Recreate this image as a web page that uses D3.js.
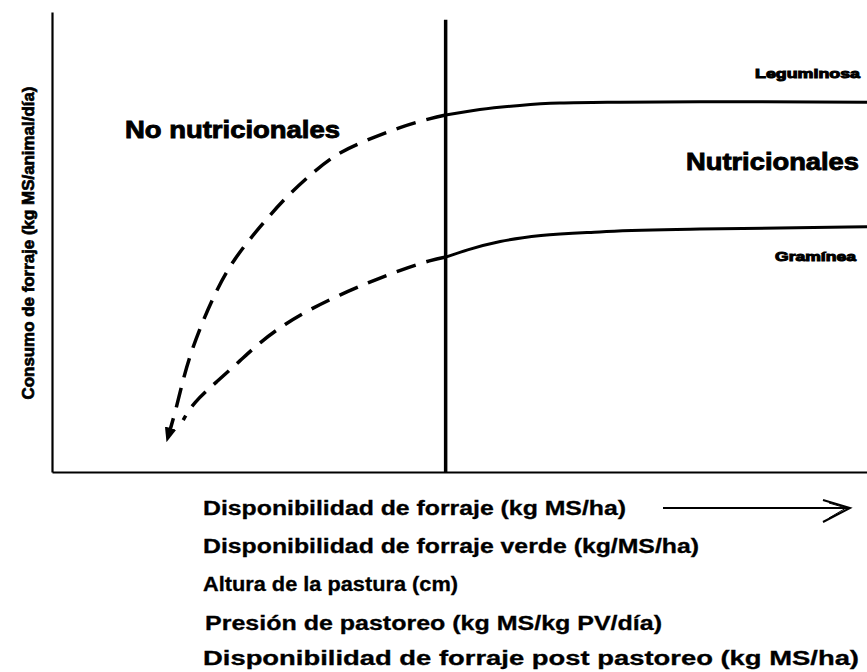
<!DOCTYPE html>
<html>
<head>
<meta charset="utf-8">
<script src="https://cdn.jsdelivr.net/npm/d3@7"></script>
<style>
  body { margin: 0; background: #fff; }
  text { font-family: "Liberation Sans", Arial, sans-serif; fill: #000; }
</style>
</head>
<body>
<div id="chart"></div>
<script>
var width = 867, height = 672;
var margin = {top: 12, right: 0, bottom: 200, left: 52};

// curves (x and y in arbitrary 0-100 units)
var legDashed = [[48.3,77.6],[46.7,77.0],[42.7,75.0],[38.7,72.2],[35.3,69.6],[32.5,65.9],[28.8,60.0],
                 [25.5,53.3],[22.2,46.1],[20.0,38.9],[18.2,31.5],[16.9,25.2],[16.0,19.5],[15.2,13.5],[14.2,7.4]];
var legSolid = [[48.3,77.6],[52.5,78.8],[57.4,79.7],[62.3,80.2],[69.7,80.4],[79.5,80.5],[100,80.4]];
var gramDashed = [[48.3,46.7],[46.7,46.2],[42.7,43.9],[39.0,41.3],[35.3,38.5],[31.7,35.4],[28.6,32.2],
                  [25.5,28.2],[23.1,24.2],[20.2,19.6],[17.3,15.0],[16.1,11.3]];
var gramSolid = [[48.3,46.7],[51,48.3],[55,50.1],[60,51.4],[67.2,52.2],[79.5,52.8],[100,53.3]];
var threshold = 48.3;
var thresholdTop = 98.3;

var xLabels = ["Disponibilidad de forraje (kg MS/ha)",
               "Disponibilidad de forraje verde (kg/MS/ha)",
               "Altura de la pastura (cm)",
               "Presión de pastoreo (kg MS/kg PV/día)",
               "Disponibilidad de forraje post pastoreo (kg MS/ha)"];
var xLabelWidths = [423, 496, 255, 457, 656];
var xLabelBase = [515, 553, 591, 630, 665];

var svg = d3.select("#chart").append("svg")
    .attr("width", width)
    .attr("height", height);

var x = d3.scaleLinear().domain([0, 100]).range([margin.left, width - margin.right]);
var y = d3.scaleLinear().domain([0, 100]).range([472, margin.top]);

svg.append("defs").append("marker")
    .attr("id", "tip")
    .attr("viewBox", "0 0 10 10")
    .attr("refX", 7).attr("refY", 5)
    .attr("markerWidth", 4.2).attr("markerHeight", 4.2)
    .attr("orient", "auto")
  .append("path")
    .attr("d", "M0,1 L10,5 L0,9 Z")
    .attr("fill", "#000");

// axes, no ticks
svg.append("g")
    .attr("transform", "translate(0,472)")
    .call(d3.axisBottom(x).tickValues([]).tickSizeOuter(0))
    .select(".domain").attr("stroke-width", 2.2);
svg.append("g")
    .attr("transform", "translate(" + margin.left + ",0)")
    .call(d3.axisLeft(y).tickValues([]).tickSizeOuter(0))
    .select(".domain").attr("stroke-width", 2.2);

// vertical threshold
svg.append("line")
    .attr("x1", x(threshold)).attr("x2", x(threshold))
    .attr("y1", y(thresholdTop)).attr("y2", y(0))
    .attr("stroke", "#000").attr("stroke-width", 3.5);

var solidLine = d3.line()
    .x(function(d) { return x(d[0]); })
    .y(function(d) { return y(d[1]); })
    .curve(d3.curveMonotoneX);
var dashLine = d3.line()
    .x(function(d) { return x(d[0]); })
    .y(function(d) { return y(d[1]); })
    .curve(d3.curveBasis);

svg.append("path").datum(legSolid).attr("d", solidLine)
    .attr("fill", "none").attr("stroke", "#000").attr("stroke-width", 3);
svg.append("path").datum(gramSolid).attr("d", solidLine)
    .attr("fill", "none").attr("stroke", "#000").attr("stroke-width", 3);

svg.append("path").datum(legDashed).attr("d", dashLine)
    .attr("fill", "none").attr("stroke", "#000").attr("stroke-width", 3.5)
    .attr("stroke-dasharray", "20,11")
    .attr("marker-end", "url(#tip)");
svg.append("path").datum(gramDashed).attr("d", dashLine)
    .attr("fill", "none").attr("stroke", "#000").attr("stroke-width", 3.5)
    .attr("stroke-dasharray", "20,11");

// labels in the plot
function label(t, px, py, size, len, heavy) {
  return svg.append("text")
    .attr("x", px).attr("y", py)
    .attr("font-size", size)
    .attr("font-weight", "bold")
    .attr("textLength", len)
    .attr("lengthAdjust", "spacingAndGlyphs")
    .attr("stroke", "#000")
    .attr("stroke-width", heavy)
    .text(t);
}
label("No nutricionales", 125, 138, 24, 215, 0.9);
label("Nutricionales", 686, 170, 24, 173, 0.9);
label("Leguminosa", 755, 78, 13, 105, 1);
label("Gramínea", 775, 261, 13, 81, 1);

// y axis title
svg.append("text")
    .attr("transform", "translate(34,243) rotate(-90)")
    .attr("text-anchor", "middle")
    .attr("font-size", 17)
    .attr("font-weight", "bold")
    .attr("stroke", "#000").attr("stroke-width", 0.7)
    .attr("textLength", 313)
    .attr("lengthAdjust", "spacingAndGlyphs")
    .text("Consumo de forraje (kg MS/animal/día)");

// x axis titles
svg.selectAll(".xl").data(xLabels).enter().append("text")
    .attr("class", "xl")
    .attr("x", function(d, i) { return i == 3 ? 205 : 203; })
    .attr("y", function(d, i) { return xLabelBase[i]; })
    .attr("font-size", 20)
    .attr("font-weight", "bold")
    .attr("stroke", "#000").attr("stroke-width", 0.3)
    .attr("textLength", function(d, i) { return xLabelWidths[i]; })
    .attr("lengthAdjust", "spacingAndGlyphs")
    .text(function(d) { return d; });

// arrow after first x title
svg.append("line")
    .attr("x1", 663).attr("x2", 849).attr("y1", 508).attr("y2", 508)
    .attr("stroke", "#000").attr("stroke-width", 1.8);
svg.append("path")
    .attr("d", "M823,500 L850,508 L823,522")
    .attr("fill", "none").attr("stroke", "#000").attr("stroke-width", 2);
svg.append("path")
    .attr("d", "M829,503 L846,508 L829,518")
    .attr("fill", "none").attr("stroke", "#000").attr("stroke-width", 1);
</script>
</body>
</html>
